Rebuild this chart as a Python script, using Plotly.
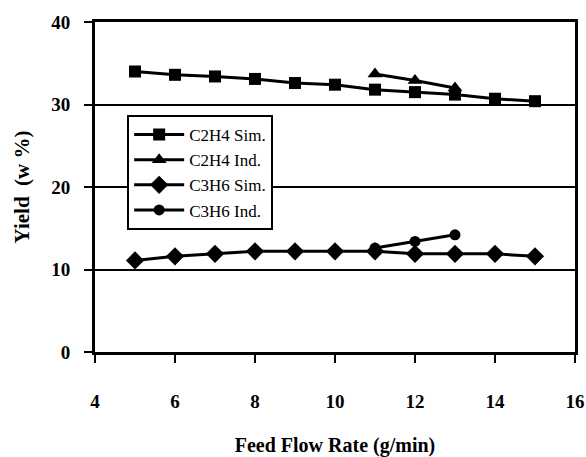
import plotly.graph_objects as go

x_sim = [5, 6, 7, 8, 9, 10, 11, 12, 13, 14, 15]
c2h4_sim = [34.0, 33.6, 33.4, 33.1, 32.6, 32.4, 31.8, 31.5, 31.2, 30.7, 30.4]
x_ind = [11, 12, 13]
c2h4_ind = [33.7, 32.9, 32.0]
c3h6_sim = [11.1, 11.6, 11.9, 12.2, 12.2, 12.2, 12.2, 11.9, 11.9, 11.9, 11.6]
c3h6_ind = [12.6, 13.4, 14.2]

x_ticks = [4, 6, 8, 10, 12, 14, 16]
y_ticks = [0, 10, 20, 30, 40]

serif = "Liberation Serif"

fig = go.Figure()
line = dict(color="black", width=3)
fig.add_trace(go.Scatter(x=x_sim, y=c2h4_sim, name="C2H4 Sim.", mode="lines+markers",
                         line=line, marker=dict(symbol="square", size=12, color="black")))
fig.add_trace(go.Scatter(x=x_ind, y=c2h4_ind, name="C2H4 Ind.", mode="lines+markers",
                         line=line, marker=dict(symbol="triangle-up", size=13, color="black")))
fig.add_trace(go.Scatter(x=x_sim, y=c3h6_sim, name="C3H6 Sim.", mode="lines+markers",
                         line=line, marker=dict(symbol="diamond", size=14, color="black")))
fig.add_trace(go.Scatter(x=x_ind, y=c3h6_ind, name="C3H6 Ind.", mode="lines+markers",
                         line=line, marker=dict(symbol="circle", size=11, color="black")))

fig.update_layout(
    width=586, height=457,
    margin=dict(l=95, r=11, t=22, b=105, autoexpand=False),
    paper_bgcolor="white", plot_bgcolor="white",
    font=dict(family=serif, size=17, color="black"),
    showlegend=True,
    legend=dict(x=0.067, y=0.718, xanchor="left", yanchor="top",
                bgcolor="white", bordercolor="black", borderwidth=2,
                font=dict(family=serif, size=17, color="black"),
                itemwidth=50, tracegroupgap=0),
)
fig.update_xaxes(
    range=[4, 16], tickvals=x_ticks, ticktext=["<b>%d</b>" % v for v in x_ticks],
    showgrid=False, zeroline=False, automargin=False,
    showline=True, linecolor="black", linewidth=3, mirror=True,
    ticks="outside", ticklen=8, tickwidth=1.5, tickcolor="black",
    ticklabelstandoff=22,
    tickfont=dict(family=serif, size=19, color="black"),
    title=dict(text="<b>Feed Flow Rate (g/min)</b>", standoff=30,
               font=dict(family=serif, size=20, color="black")),
)
fig.update_yaxes(
    range=[0, 40], tickvals=y_ticks, ticktext=["<b>%d</b>" % v for v in y_ticks],
    showgrid=True, gridcolor="black", gridwidth=1.5, zeroline=False, automargin=False,
    showline=True, linecolor="black", linewidth=3, mirror=True,
    ticks="outside", ticklen=8, tickwidth=1.5, tickcolor="black",
    ticklabelstandoff=10,
    tickfont=dict(family=serif, size=19, color="black"),
    title=dict(text="<b>Yield  (w %)</b>", standoff=16,
               font=dict(family=serif, size=21, color="black")),
)

fig.write_html("out.html", post_script="document.body.style.margin='0';",
               config={"displayModeBar": False})
